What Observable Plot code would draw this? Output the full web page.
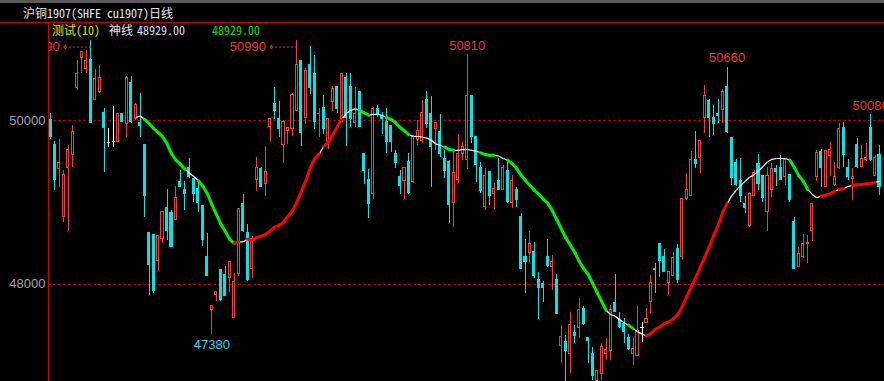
<!DOCTYPE html>
<html><head><meta charset="utf-8">
<script src="https://cdn.jsdelivr.net/npm/d3@7"></script>
<script src="https://cdn.jsdelivr.net/npm/@observablehq/plot@0.6"></script>
<style>
html,body{margin:0;padding:0;background:#000;width:884px;height:381px;overflow:hidden;}
#head{position:relative;width:884px;height:22px;border-bottom:1px solid #d00000;background:#000;}
#strip{position:absolute;left:0;top:0;width:884px;height:3px;background:#5a5a5a;}
.mono{font-family:"Noto Sans Mono CJK SC","DejaVu Sans Mono","Noto Sans CJK SC",monospace;font-size:12px;line-height:14px;white-space:pre;position:absolute;}
#title{left:23px;top:6px;color:#e8e8e8;}
#wrap{position:relative;width:884px;height:358px;}
#vline{position:absolute;left:48px;top:0;width:1px;height:358px;background:#d00000;z-index:2;}
#chart{position:absolute;left:0;top:0;}
</style></head>
<body>
<div id="head"><div id="strip"></div><div id="title" class="mono">沪铜1907(SHFE cu1907)日线</div></div>
<div id="wrap">
  <div id="chart"></div>
  <div id="vline"></div>
  <span class="mono" style="left:52px;top:0;color:#e0e000;z-index:3">测试(10)</span>
  <span class="mono" style="left:109px;top:0;color:#e6e6e6;z-index:3">神线</span>
  <span class="mono" style="left:137px;top:0;color:#dcdcf0;z-index:3">48929.00</span>
  <span class="mono" style="left:212px;top:0;color:#00e000;z-index:3">48929.00</span>
</div>
<script>
// ---- data (prices) ----
const opens = [50010,49710,49410,48830,49430,49580,50400,50770,50640,50750,50260,50350,50100,49740,49750,49740,50080,49960,50470,50020,
49970,49700,48630,48600,48280,48560,48940,48870,48790,49250,49150,49420,49290,49170,48960,48330,47690,47870,48170,48110,
48080,47590,48130,48980,48630,48190,49280,49410,49230,49920,50210,50020,49710,49880,49900,50120,50730,50040,50690,50580,
50080,50160,49740,50230,50410,49990,50520,50410,49980,50350,49590,49280,49110,50150,50060,49990,49940,49590,49310,49260,
49500,49250,49770,49760,50260,50090,49900,49860,49530,49500,49000,49280,49600,49520,50300,49800,49430,48950,49370,49110,
49270,49160,49390,49000,49150,48820,48330,48380,48400,48050,48000,48330,48210,48050,47240,47290,47150,47400,47470,47700,
47340,47150,46820,46900,47150,47180,47770,47560,47520,47340,47150,47120,47470,47530,47780,48190,48490,48330,48020,48100,
48430,48330,49040,49080,49520,49550,50030,50250,50030,50080,50140,50410,49790,49480,49260,48980,48710,49080,49470,49320,
48880,49160,49410,49430,49310,49340,48760,48210,48330,48490,48650,49310,49620,49190,49570,49210,49430,49910,49420,49290,
49700,49440,49520,49910,49330,49580];
const highs = [50090,49750,49770,49390,49700,49940,50740,50850,50860,50990,50630,50680,50150,49910,50180,50090,50090,50540,50540,50210,
50340,49710,48640,48610,48590,48890,49160,48900,49200,49390,49260,49540,49300,49250,48970,48620,47740,47910,48180,48220,
48280,48130,48930,49100,48730,48590,49550,49430,49690,50030,50410,50240,50010,49910,50330,50990,50740,50640,50910,50800,
50150,50310,50030,50420,50420,50580,50580,50580,50410,50360,49600,49410,50160,50190,50100,50150,49950,49640,49390,49420,
49600,49820,50010,50250,50360,50300,49980,50080,49640,49510,49640,49830,49740,50810,50310,49810,49490,49420,49380,49230,
49540,49460,49490,49330,49190,48870,48550,48650,48510,48140,48030,48550,48350,48120,47500,47370,47650,47500,47830,47730,
47340,47230,46950,47280,47340,47740,48120,47660,47580,47390,47350,47730,47530,47700,48110,48260,48500,48430,48160,48390,
48490,49050,49360,49630,49870,49760,50430,50260,50190,50260,50390,50660,49800,49530,49540,49080,49120,49390,49590,49330,
49430,49480,49460,49580,49530,49350,48820,48450,48610,48600,48990,49640,49650,49640,49740,49490,49970,49980,49530,49420,
49790,49700,49720,50080,49580,49700];
const lows = [49770,49150,49190,48760,48650,49430,50370,50580,50580,49970,50250,50340,49370,49680,49680,49730,49980,49800,49970,50010,
49800,48820,47860,47890,48160,48500,48540,48450,48780,49180,48900,49300,49000,48880,48460,48090,47380,47790,47790,47850,
47900,47580,48100,48640,48030,48070,49140,49180,49080,49740,50020,49800,49480,49710,49810,50110,49690,49960,50320,49900,
49800,49830,49650,50120,50090,49980,49690,49920,49920,49920,49220,48810,49040,50040,49830,49600,49610,49420,49100,49040,
49100,49240,49700,49720,49910,49190,49640,49550,49300,48740,48700,49230,49520,49410,49720,49250,49110,48900,48960,48920,
49150,49150,48990,48930,48940,48180,47890,48260,48070,47570,47780,48210,47920,47630,47030,46800,46910,47280,47340,47500,
47030,46820,46800,46820,47070,47070,47650,47460,47270,47190,47000,47110,47290,47520,47640,47890,48080,48140,47860,48090,
48010,48290,49030,49070,49420,49360,49850,49800,49820,49970,49970,49850,49210,49200,49000,48870,48700,49070,49150,49000,
48650,49060,49200,49270,49210,49000,48180,48200,48320,48260,48520,49260,49190,49180,49320,49200,49410,49430,49270,49030,
49420,49430,49500,49500,49320,49090];
const closes = [49800,49280,49480,49340,49640,49860,50580,50840,50740,49980,50510,50530,49910,49740,49750,50080,49990,50530,49990,50200,
49940,49080,48240,47920,48590,48880,48650,48460,49060,49190,49100,49310,49110,48990,48540,48100,47740,47900,47810,47860,
48270,48030,48920,48650,48050,48550,49420,49190,49370,50020,50120,49900,49990,49910,50320,50680,49850,50610,50400,49990,
50090,49900,50020,50390,50150,50570,50030,50020,50080,49930,49390,48980,50150,50080,50020,49740,49740,49490,49200,49420,
49120,49810,49880,50100,49960,49680,49970,49600,49390,48970,49360,49590,49680,50300,49800,49460,49140,49330,49080,49170,
49160,49420,49010,49260,49030,48190,48270,48490,48100,47950,47960,48220,48270,47640,47350,47180,47500,47370,47690,47520,
47310,46880,46940,47230,47200,47690,47660,47480,47410,47210,47210,47430,47470,47580,48010,48180,48280,48150,48150,48320,
48050,49040,49150,49520,49470,49750,50300,50040,49960,50060,50360,49860,49300,49220,49080,48930,49110,49360,49230,49060,
49320,49410,49370,49280,49520,49030,48190,48370,48490,48510,48980,49610,49420,49630,49650,49310,49900,49580,49310,49310,
49440,49530,49550,49520,49550,49190];

// 神线 values, starting at bar maStart
const maStart = 19;
const maValues = [50040,50060,50020,49970,49910,49860,49810,49720,49600,49520,
49470,49410,49360,49320,49270,49200,49110,48980,48860,48740,
48650,48550,48500,48520,48520,48550,48540,48570,48590,48610,
48650,48700,48720,48760,48830,48900,49010,49140,49270,49430,
49540,49600,49690,49740,49830,49930,50020,50090,50130,50150,
50130,50100,50070,50080,50080,50070,50040,50020,49980,49920,
49880,49830,49810,49810,49800,49790,49760,49720,49700,49680,
49650,49640,49640,49650,49650,49640,49630,49610,49590,49580,
49580,49570,49540,49520,49480,49420,49340,49270,49210,49150,
49100,49040,48990,48900,48790,48680,48570,48480,48390,48280,
48190,48120,48010,47900,47790,47680,47630,47610,47570,47530,
47500,47460,47420,47390,47370,47400,47450,47480,47520,47540,
47580,47630,47730,47850,47970,48080,48210,48330,48460,48600,
48720,48880,48990,49080,49150,49210,49260,49310,49340,49390,
49440,49500,49530,49540,49540,49540,49520,49430,49330,49260,
49160,49100,49060,49080,49090,49110,49140,49160,49170,49200,
49210,49220,49220,49230,49230,49250,49260];
// 神线 state per point: 1 up, -1 down, 0 neutral
const maState = [0,0,0,-1,-1,-1,-1,-1,-1,-1,
-1,-1,0,0,0,-1,-1,-1,-1,-1,
-1,-1,-1,1,0,0,1,1,1,1,
1,1,1,1,1,1,1,1,1,1,
1,1,0,1,1,1,1,0,0,0,
0,-1,-1,0,0,0,0,-1,-1,-1,
-1,-1,0,0,0,0,0,0,0,0,
-1,-1,0,0,0,0,0,0,-1,-1,
-1,0,0,0,-1,-1,-1,-1,-1,-1,
-1,-1,-1,-1,-1,-1,-1,-1,-1,-1,
-1,-1,-1,-1,-1,-1,0,0,0,0,
0,-1,0,0,0,1,1,1,1,1,
1,1,1,1,1,1,1,1,1,1,
1,1,1,0,0,0,0,0,0,0,
0,0,0,0,0,0,0,-1,-1,-1,
-1,0,0,0,1,1,1,0,1,0,
0,1,1,1,1,1,0];

const yTicks = [50000, 48000];
const highArrowMarks = [9, 55];
const highMarks = [93, 151, 183];
const lowMarks = [36];

// ---- build ----
const RED = "#f03c3c", CYAN = "#00e6e6", WHITE = "#ffffff";
const XDOMAIN = [-0.446, 186.116];
const pxPerBar = 836 / (XDOMAIN[1] - XDOMAIN[0]);
const bars = opens.map((o, i) => ({i, o, h: highs[i], l: lows[i], c: closes[i]}));
const colOf = d => d.c > d.o ? RED : d.c < d.o ? CYAN : WHITE;
const bodies = bars.filter(d => d.c !== d.o);
const dojis = bars.filter(d => d.c === d.o);

const segs = [];
for (let k = 0; k < maValues.length - 1; k++) {
  segs.push({x1: maStart + k, y1: maValues[k], x2: maStart + k + 1, y2: maValues[k + 1], s: maState[k + 1]});
}
const flatSegs = segs.filter(d => d.s === 0);
const trendSegs = segs.filter(d => d.s !== 0);
const arrowLen = 26 / pxPerBar;
const txtFont = "Liberation Sans, Arial, sans-serif";

const chart = Plot.plot({
  width: 884, height: 358,
  marginLeft: 48, marginRight: 0, marginTop: 0, marginBottom: 0,
  style: {background: "#000", overflow: "hidden"},
  x: {type: "linear", domain: XDOMAIN, axis: null},
  y: {domain: [46810, 51193], axis: null},
  color: {type: "identity"},
  marks: [
    Plot.ruleY(yTicks, {stroke: "#a80000", strokeDasharray: "3,2", shapeRendering: "crispEdges"}),
    Plot.ruleX(bars, {x: "i", y1: "l", y2: "h", stroke: colOf, shapeRendering: "crispEdges", clip: true}),
    Plot.rect(bodies, {x1: d => d.i - 0.23, x2: d => d.i + 0.23, y1: "o", y2: "c",
      fill: d => d.c > d.o ? "#000" : CYAN, stroke: colOf, shapeRendering: "crispEdges", clip: true}),
    Plot.link(dojis, {x1: d => d.i - 0.35, x2: d => d.i + 0.35, y1: "o", y2: "o", stroke: WHITE, shapeRendering: "crispEdges"}),
    Plot.link(flatSegs, {x1: "x1", y1: "y1", x2: "x2", y2: "y2", stroke: WHITE, strokeWidth: 1.2}),
    Plot.link(trendSegs, {x1: "x1", y1: "y1", x2: "x2", y2: "y2", stroke: d => d.s > 0 ? "#ff0000" : "#00ee00", strokeWidth: 3, strokeLinecap: "round"}),
    // marked highs / lows
    Plot.text(highMarks, {x: d => d, y: d => highs[d], text: d => String(highs[d]), dy: -9, fill: "#e83838", fontSize: 13, fontFamily: txtFont}),
    Plot.text(lowMarks, {x: d => d, y: d => lows[d], text: d => String(lows[d]), dy: 10, fill: "#30d4f0", fontSize: 13, fontFamily: txtFont}),
    Plot.text(highArrowMarks, {x: d => d, y: d => highs[d], text: d => String(highs[d]), dx: -31, dy: 7, textAnchor: "end", fill: "#e83838", fontSize: 13, fontFamily: txtFont, clip: true}),
    Plot.link(highArrowMarks, {x1: d => d, x2: d => d - arrowLen + 1.2 / pxPerBar, y1: d => highs[d], y2: d => highs[d], dy: 7, stroke: "#e83838", strokeDasharray: "2,2", clip: true}),
    Plot.link(highArrowMarks, {x1: d => d - arrowLen + 2 / pxPerBar, x2: d => d - arrowLen, y1: d => highs[d], y2: d => highs[d], dy: 7, stroke: "#e83838", markerEnd: "arrow", clip: true}),
    // y axis labels
    Plot.text(yTicks, {y: d => d, frameAnchor: "left", textAnchor: "end", dx: -3, text: d => String(d), fill: "#a0a0a8", fontSize: 13, fontFamily: txtFont})
  ]
});
document.getElementById("chart").appendChild(chart);
</script>
</body></html>
